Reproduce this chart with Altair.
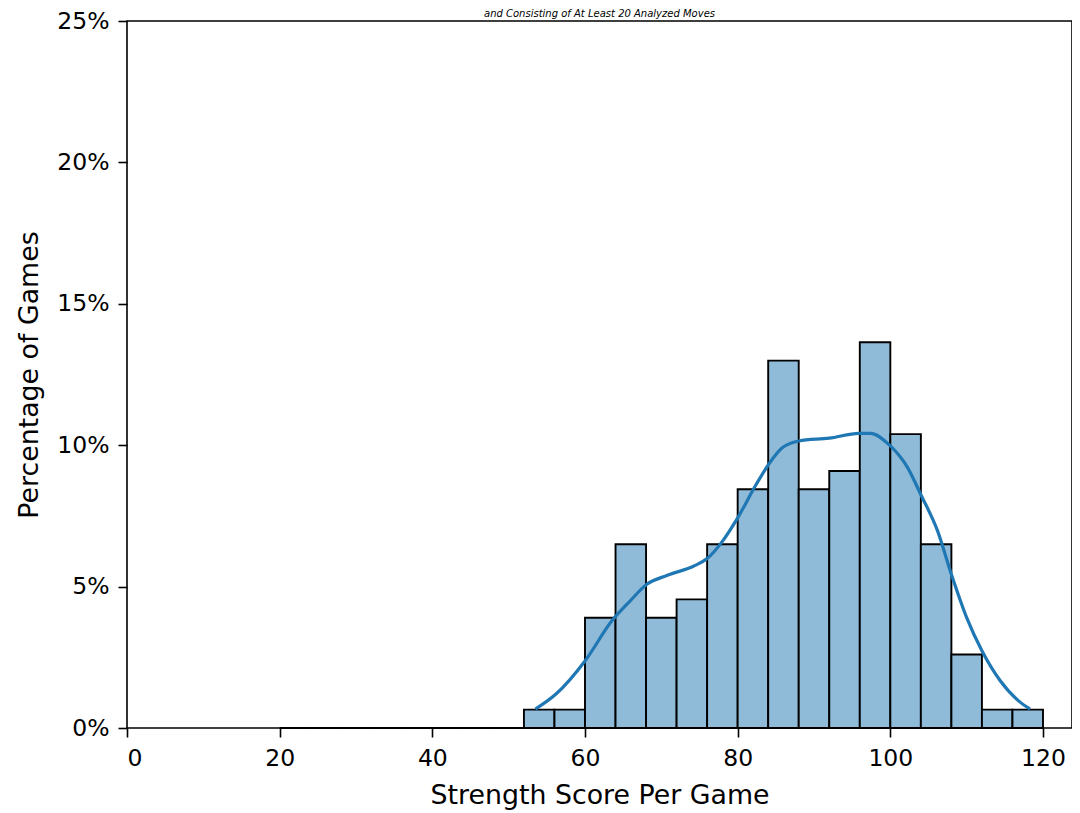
import altair as alt
import pandas as pd

# Histogram bins (width 4) and percentage of games per bin
bin_start = [20, 24, 28, 32, 36, 40, 44, 48,
             52, 56, 60, 64, 68, 72, 76, 80, 84, 88, 92, 96, 100, 104, 108, 112, 116]
bin_pct = [0, 0, 0, 0, 0, 0, 0, 0,
           0.65, 0.65, 3.9, 6.5, 3.9, 4.55, 6.5, 8.44, 12.99, 8.44, 9.09, 13.64, 10.39, 6.5, 2.6, 0.65, 0.65]
bin_width = 4

# KDE curve (x, percent)
kde_x = [53.5, 56.2, 60.0, 63.5, 65.9, 68.1, 70.8, 74.2, 76.0, 78.0, 80.0, 82.4, 84.0, 85.8,
         88.0, 92.0, 95.9, 97.4, 99.9, 102.3, 104.0, 106.2, 108.0, 110.0, 112.0, 114.4, 116.8, 118.3]
kde_y = [0.67, 1.2, 2.37, 3.78, 4.49, 5.08, 5.4, 5.72, 5.99, 6.6, 7.43, 8.6, 9.3, 9.9,
         10.15, 10.25, 10.42, 10.42, 10.0, 9.19, 8.25, 6.96, 5.43, 3.9, 2.73, 1.67, 0.96, 0.67]

x_ticks = [0, 20, 40, 60, 80, 100, 120]
y_ticks = [0, 5, 10, 15, 20, 25]

FONT = "DejaVu Sans"

hist_df = pd.DataFrame({
    "start": bin_start,
    "end": [s + bin_width for s in bin_start],
    "pct": [p / 100 for p in bin_pct],
})
kde_df = pd.DataFrame({"x": kde_x, "pct": [v / 100 for v in kde_y]})

x_scale = alt.Scale(domain=[0, 123.8], nice=False, zero=False)
y_scale = alt.Scale(domain=[0, 0.25], nice=False)

common = dict(grid=False, labelFont=FONT, titleFont=FONT, labelFontSize=23.5, titleFontSize=26.8,
              tickSize=9, tickWidth=1.6, tickColor="black", labelColor="black",
              titleColor="black", titleFontWeight="normal", domain=False)

x_axis = alt.Axis(values=x_ticks, title="Strength Score Per Game", labelPadding=9,
                  titleX=472.5, titleY=75, titleBaseline="alphabetic", **common)
y_axis = alt.Axis(values=[t / 100 for t in y_ticks], format=".0%", title="Percentage of Games",
                  labelPadding=9, titleX=-90, titleBaseline="alphabetic", **common)

bars = alt.Chart(hist_df).mark_rect(
    fill="#8fbbd9", stroke="black", strokeWidth=1.9
).encode(
    x=alt.X("start:Q", scale=x_scale, axis=x_axis),
    x2="end:Q",
    y=alt.Y("pct:Q", scale=y_scale, axis=y_axis),
    y2=alt.Y2(datum=0),
)

kde = alt.Chart(kde_df).mark_line(
    color="#1f77b4", strokeWidth=3.2, interpolate="monotone"
).encode(
    x=alt.X("x:Q", scale=x_scale),
    y=alt.Y("pct:Q", scale=y_scale),
)

chart = alt.layer(bars, kde).properties(
    width=945,
    height=707,
    autosize=alt.AutoSizeParams(type="none"),
    padding={"left": 119, "top": 13, "right": 0, "bottom": 85},
    title=alt.TitleParams(
        "and Consisting of At Least 20 Analyzed Moves",
        fontSize=10, font=FONT, fontStyle="italic", fontWeight="normal",
        color="black", anchor="middle", offset=0, baseline="bottom", dy=20,
    ),
).configure_view(
    stroke="black", strokeWidth=1.6
)

chart.save("out.html", embed_options={"renderer": "svg", "actions": False})
